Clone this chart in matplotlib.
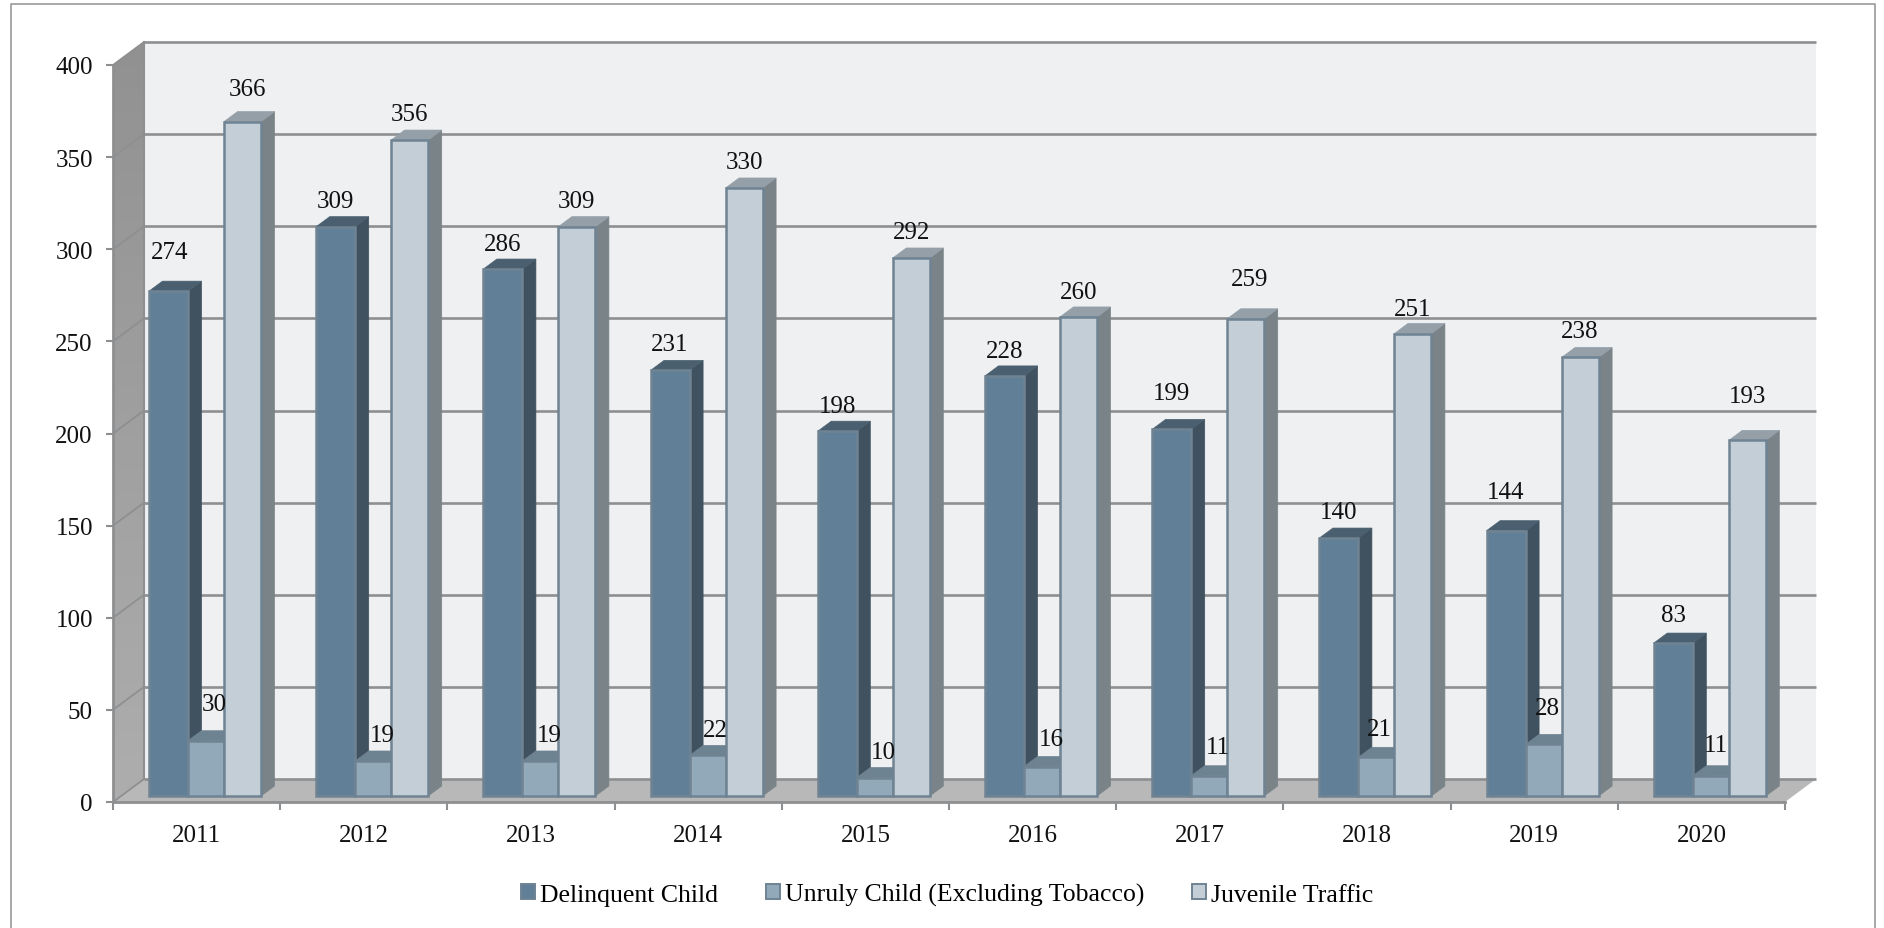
import numpy as np
import matplotlib
matplotlib.use("Agg")
import matplotlib.pyplot as plt
from matplotlib.patches import Polygon, Patch
from matplotlib.lines import Line2D

plt.rcParams['font.family'] = ['Liberation Serif', 'DejaVu Serif']

# ---- data ----
years = ['2011', '2012', '2013', '2014', '2015', '2016', '2017', '2018', '2019', '2020']
delinquent = [274, 309, 286, 231, 198, 228, 199, 140, 144, 83]
unruly = [30, 19, 19, 22, 10, 16, 11, 21, 28, 11]
traffic = [366, 356, 309, 330, 292, 260, 259, 251, 238, 193]
series_names = ['Delinquent Child', 'Unruly Child (Excluding Tobacco)', 'Juvenile Traffic']
y_ticks = [0, 50, 100, 150, 200, 250, 300, 350, 400]

# label nudges in pixels (dx from bar centre, dy above bar top)
dark_dx = [1, 0, 0, 0, 0, 0, 0, 0, 0, 0]
dark_dy = [39, 26, 25, 26, 25, 25, 36, 26, 39, 28]
mid_dx = [8, 9, 9, 8, 9, 9, 9, 3, 4, 5]
mid_dy = [37, 26, 26, 25, 26, 28, 29, 28, 36, 31]
light_dx = [5, 0, 0, 0, 0, 0, 4, 0, 0, 0]
light_dy = [33, 26, 26, 26, 26, 25, 40, 25, 26, 44]

# ---- style ----
W, H = 1884, 929
fig = plt.figure(figsize=(W / 100, H / 100), dpi=100, facecolor='white')
L, R, T, B = 113, 1785, 66, 803
ax = fig.add_axes([L / W, 1 - B / H, (R - L) / W, (B - T) / H])
px_x = (R - L) / len(years)      # pixels per category
px_y = (B - T) / 400             # pixels per value unit

wall_dx, wall_dy = 31 / px_x, 23 / px_y
bar_dx, bar_dy = 13.5 / px_x, 10 / px_y
base_y = 6 / px_y
grid_c = '#8D8F90'

# back wall, floor, side wall
ax.add_patch(Polygon([(wall_dx, wall_dy), (10 + wall_dx, wall_dy), (10 + wall_dx, 400 + wall_dy), (wall_dx, 400 + wall_dy)],
                     closed=True, fc='#EFF0F2', ec='none', clip_on=False, zorder=0))
ax.add_patch(Polygon([(0, 0), (wall_dx, wall_dy), (10 + wall_dx, wall_dy), (10, 0)],
                     closed=True, fc='#B8B8B8', ec='none', clip_on=False, zorder=0.5))
side = Polygon([(0, 0), (wall_dx, wall_dy), (wall_dx, 400 + wall_dy), (0, 400)],
               closed=True, fc='none', ec='none', clip_on=False, zorder=0.4)
ax.add_patch(side)
grad = np.linspace(0, 1, 64)[:, None]
rgb = np.dstack([0.57 + 0.11 * grad] * 3)
im = ax.imshow(rgb, extent=(0, wall_dx, 0, 400 + wall_dy), origin='upper', aspect='auto', zorder=0.4)
im.set_clip_box(fig.bbox)
im.set_clip_path(side)
ax.set_xlim(0, len(years))
ax.set_ylim(0, 400)

for v in y_ticks:
    ax.plot([wall_dx, 10 + wall_dx], [v + wall_dy] * 2, color=grid_c, lw=1.9, clip_on=False, zorder=0.6,
            solid_capstyle='butt')
    ax.plot([0, wall_dx], [v, v + wall_dy], color=grid_c, lw=1.3, clip_on=False, zorder=0.6)
ax.plot([wall_dx, wall_dx], [wall_dy, 400 + wall_dy], color=grid_c, lw=1.5, clip_on=False, zorder=0.6)

# bars
bar_left = 36 / px_x
widths = [39 / px_x, 36 / px_x, 37 / px_x]
styles = [('#617F96', '#40525F', '#4A6070'),
          ('#92A9BA', '#7A8E9C', '#6E8391'),
          ('#C3CED7', '#7A8488', '#949FA8')]
edge = '#6F8393'
all_vals = [delinquent, unruly, traffic]
all_dx = [dark_dx, mid_dx, light_dx]
all_dy = [dark_dy, mid_dy, light_dy]

offset = 0.0
for s, (vals, w, (front, sidec, top)) in enumerate(zip(all_vals, widths, styles)):
    xs = np.arange(len(years)) + bar_left + offset
    ax.bar(xs, vals, width=w, bottom=base_y, align='edge', color=front, edgecolor=edge, linewidth=1.8,
           zorder=3 + s * 0.1, clip_on=False)
    for x, v in zip(xs, vals):
        t = v + base_y
        ax.add_patch(Polygon([(x + w, base_y), (x + w + bar_dx, base_y + bar_dy), (x + w + bar_dx, t + bar_dy), (x + w, t)],
                             closed=True, fc=sidec, ec=sidec, lw=0.5, zorder=2.95 + s * 0.1, clip_on=False))
        ax.add_patch(Polygon([(x, t), (x + bar_dx, t + bar_dy), (x + w + bar_dx, t + bar_dy), (x + w, t)],
                             closed=True, fc=top, ec=top, lw=0.5, zorder=2.95 + s * 0.1, clip_on=False))
    offset += w

# data labels
offset = 0.0
for s, (vals, w) in enumerate(zip(all_vals, widths)):
    xs = np.arange(len(years)) + bar_left + offset + w / 2
    for x, v, dx, dy in zip(xs, vals, all_dx[s], all_dy[s]):
        ax.annotate(str(v), xy=(x, v + base_y), xytext=(dx, dy), textcoords='offset pixels',
                    ha='center', va='center', fontsize=18, color='#111111', zorder=6, annotation_clip=False)
    offset += w

# axes furniture
for k in ('top', 'right'):
    ax.spines[k].set_visible(False)
for k in ('left', 'bottom'):
    ax.spines[k].set_color(grid_c)
    ax.spines[k].set_linewidth(2.0)
    ax.spines[k].set_zorder(2)
ax.set_yticks(y_ticks)
ax.set_yticklabels([str(v) for v in y_ticks], fontsize=18, color='#111111')
ax.set_xticks(np.arange(len(years) + 1))
ax.set_xticklabels([])
ax.set_xticks(np.arange(len(years)) + 0.5, minor=True)
ax.set_xticklabels(years, minor=True, fontsize=18, color='#111111')
ax.tick_params(axis='y', length=5, width=1.5, color=grid_c, pad=9.5)
ax.tick_params(axis='x', which='major', length=6, width=1.5, color=grid_c)
ax.tick_params(axis='x', which='minor', length=0, pad=16)
ax.patch.set_visible(False)

# legend
handles = [Patch(fc=st[0], ec=edge, lw=1.4, label=n) for st, n in zip(styles, series_names)]
ax.legend(handles=handles, loc='center', bbox_to_anchor=(947 / W, 1 - 895.5 / H), bbox_transform=fig.transFigure,
          ncol=3, frameon=False, fontsize=18.5, handlelength=0.55, handleheight=0.55,
          handletextpad=0.2, columnspacing=1.85, borderpad=0, borderaxespad=0)

# outer frame (open at the bottom)
bc = '#9A9A9A'
fig.add_artist(Line2D([11 / W, 11 / W, 1875 / W, 1875 / W], [0, 1 - 4.5 / H, 1 - 4.5 / H, 0], color=bc, lw=1.2))

fig.savefig('out.png', dpi=100)
